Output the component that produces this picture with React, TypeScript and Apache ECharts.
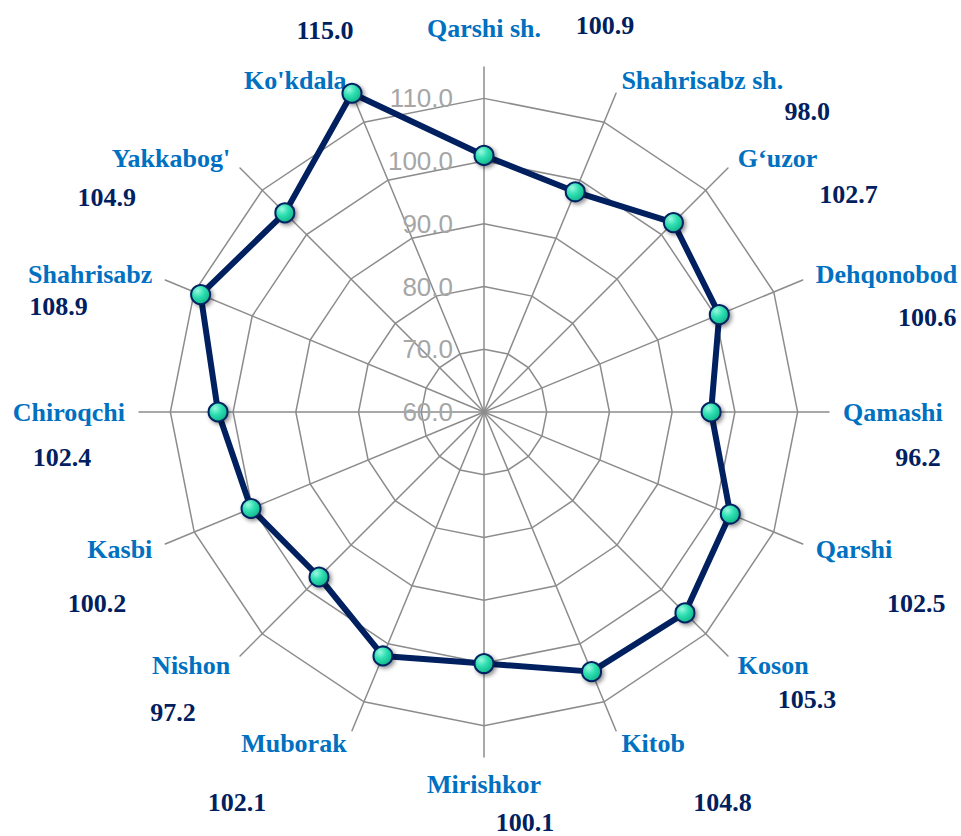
import { useEffect, useRef } from 'react';
import * as echarts from 'echarts';

// Indicators, clockwise from the top
const regions = [
  'Qarshi sh.',
  'Shahrisabz sh.',
  'G‘uzor',
  'Dehqonobod',
  'Qamashi',
  'Qarshi',
  'Koson',
  'Kitob',
  'Mirishkor',
  'Muborak',
  'Nishon',
  'Kasbi',
  'Chiroqchi',
  'Shahrisabz',
  "Yakkabog'",
  "Ko'kdala",
];

const values = [100.9, 98.0, 102.7, 100.6, 96.2, 102.5, 105.3, 104.8, 100.1, 102.1, 97.2, 100.2, 102.4, 108.9, 104.9, 115.0];

// Axis scale
const axisMin = 60;
const gridMax = 110;
const outerMax = 115;
const gridStep = 10;

// ECharts lays indicators out counter-clockwise; reorder so they read clockwise
const order = regions.map((_, i) => (regions.length - i) % regions.length);

export default function App() {
  const ref = useRef<HTMLDivElement>(null);

  useEffect(() => {
    const chart = echarts.init(ref.current!, null, { renderer: 'svg' });
    const serif = '"Liberation Serif", "Times New Roman", serif';
    const sans = '"Liberation Sans", Arial, sans-serif';
    const cx = 484;
    const cy = 412;
    const rOuter = 345;
    const rGrid = (rOuter * (gridMax - axisMin)) / (outerMax - axisMin);
    const gridColor = '#8c8c8c';

    // value-label offsets from their vertex (layout only)
    const labelOffsets: number[][] = [
      [121, -130],
      [232, -80],
      [175, -28],
      [208, 3],
      [207, 45],
      [186, 89],
      [122, 87],
      [131, 131],
      [41, 159],
      [-146, 147],
      [-146, 135],
      [-154, 95],
      [-156, 45],
      [-142, 12],
      [-178, -15],
      [-27, -63],
    ];

    const orderedValues = order.map((k) => values[k]);

    const marker = new echarts.graphic.RadialGradient(0.35, 0.3, 0.75, [
      { offset: 0, color: '#9af8df' },
      { offset: 0.45, color: '#2fe0b2' },
      { offset: 1, color: '#0fb488' },
    ]);

    const labelSeries = regions.map((_, k) => {
      const pos = order.indexOf(k);
      const txt = values[k].toFixed(1);
      return {
        type: 'radar',
        radarIndex: 0,
        silent: true,
        z: 5,
        symbol: 'circle',
        symbolSize: 1,
        itemStyle: { color: 'rgba(0,0,0,0)' },
        lineStyle: { opacity: 0, width: 0 },
        label: {
          show: true,
          position: 'inside',
          offset: labelOffsets[k],
          color: '#002060',
          fontFamily: serif,
          fontWeight: 'bold',
          fontSize: 26,
          formatter: (p: any) => {
            if (p.dimensionIndex != null) return p.dimensionIndex === pos ? txt : '';
            return p.value === values[k] ? txt : '';
          },
        },
        data: [{ value: orderedValues }],
      };
    });

    chart.setOption({
      animation: false,
      backgroundColor: '#ffffff',
      radar: [
        {
          // outer radar: axis lines to 115 and indicator names
          center: [cx, cy],
          radius: rOuter,
          shape: 'polygon',
          splitNumber: 1,
          nameGap: 14,
          axisName: {
            color: '#0070C0',
            fontFamily: serif,
            fontWeight: 'bold',
            fontSize: 26,
          },
          axisLine: { show: true, lineStyle: { color: gridColor, width: 1.5 } },
          splitLine: { show: false },
          splitArea: { show: false },
          axisTick: { show: false },
          axisLabel: { show: false },
          indicator: order.map((k, i) => ({
            name: regions[k],
            min: axisMin,
            max: outerMax,
            ...(i === 0 ? { nameTextStyle: { padding: [0, 0, 12, 0] } } : {}),
          })),
        },
        {
          // grid rings 60..110 with tick labels on the top axis
          center: [cx, cy],
          radius: rGrid,
          shape: 'polygon',
          splitNumber: (gridMax - axisMin) / gridStep,
          axisName: { show: false },
          axisLine: { show: false },
          splitLine: { show: true, lineStyle: { color: gridColor, width: 1.5 } },
          splitArea: { show: false },
          axisTick: { show: false },
          axisLabel: {
            show: false,
            color: '#a6a6a6',
            fontFamily: sans,
            fontSize: 26,
            margin: 31,
            formatter: (v: number) => v.toFixed(1),
          },
          indicator: order.map((k, i) => ({
            name: regions[k],
            min: axisMin,
            max: gridMax,
            ...(i === 0 ? { axisLabel: { show: true } } : {}),
          })),
        },
      ],
      series: [
        {
          type: 'radar',
          radarIndex: 0,
          z: 3,
          symbol: 'circle',
          symbolSize: 19,
          lineStyle: { color: '#002060', width: 6 },
          itemStyle: {
            color: marker,
            borderColor: '#002060',
            borderWidth: 2,
            shadowBlur: 4,
            shadowColor: 'rgba(0,0,0,0.45)',
            shadowOffsetX: 2,
            shadowOffsetY: 2,
          },
          data: [{ value: orderedValues }],
        },
        ...labelSeries,
      ],
    } as any);

    return () => chart.dispose();
  }, []);

  return (
    <div
      ref={ref}
      style={{ position: 'absolute', left: 0, top: 0, width: 961, height: 836, background: '#fff' }}
    />
  );
}
